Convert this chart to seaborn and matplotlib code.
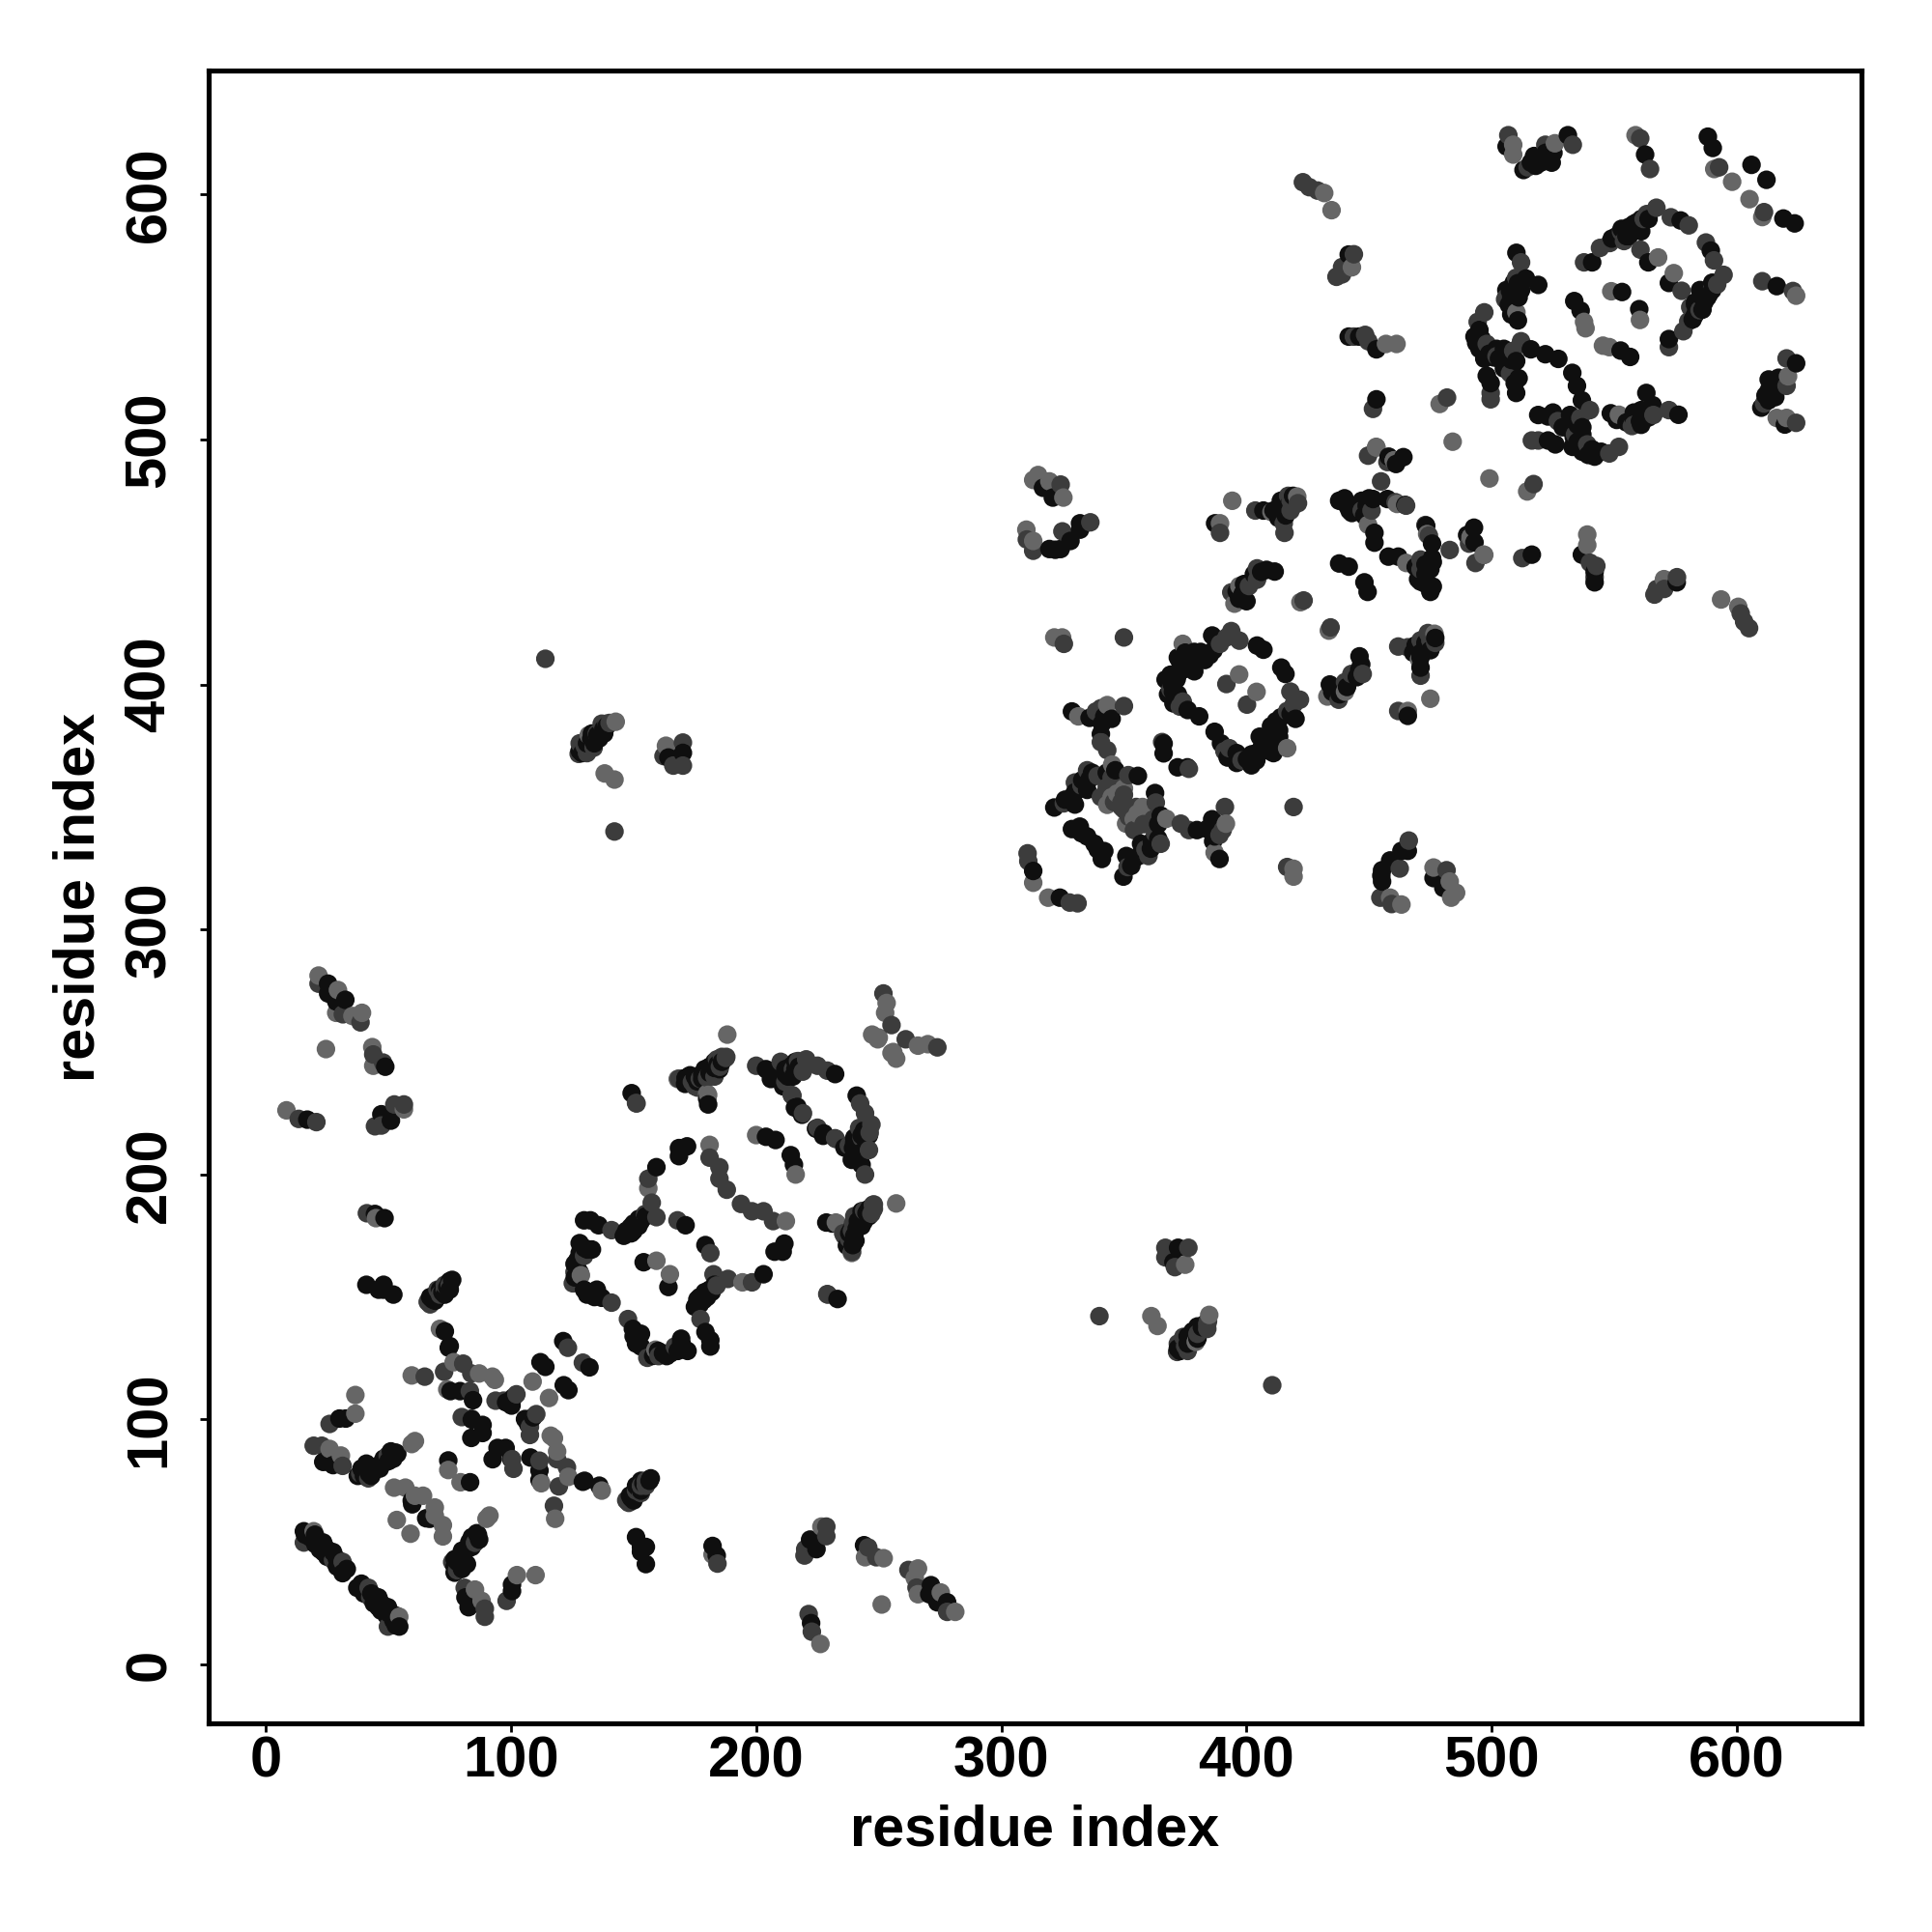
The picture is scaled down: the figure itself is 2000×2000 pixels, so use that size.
import pandas as pd
import matplotlib.pyplot as plt
import seaborn as sb

# Contacts, only the i < j half. The map is symmetric.
dark_contacts = [
    (41,155),(46,153),(48,153),(52,151),(68,149),(70,150),(72,152),(74,154),(76,157),
    (73,136),(74.6,129.3),(75,130),(75.3,111.6),(79.2,111.6),(84.5,107.9),(88.4,97.8),
    (88.4,94.5),(83.8,92.5),(84,100),(100.2,105.7),(98,107),(100.9,109),(112,123.4),
    (114,121.5),(121.3,132),(23.4,82.7),(27.4,81.4),(25,83),(30,100.4),(32.6,100.4),
    (42.5,80.7),(45.7,80.7),(53.6,86),(44,79),(59.5,66.9),(59.7,65.4),(74.4,83.3),
    (15.5,54.4),(20.1,49.2),(23.4,49.8),(23.4,45.9),(27.4,45.9),(31.3,37.3),(40,77),
    (46.5,80),(50,83),(53,86.5),
    (67,150),(69,148.5),(71,153),(73,151),(75,153),(75,156.5),(16,53),(18,52),(21,50),
    (22,47),(25,47),(25,44),(29,43),(29,40),(33,39),(20,53),(37.5,77),(39,80),(41,82),
    (43,77),(47,82),(48,84),(51,87),(52,84),(42,78),
    (129.8,181.3),(132.4,181.3),(135.7,179.3),(131.1,169.4),(133,169.4),(125.9,163.5),
    (129.8,153),(133,151.7),(137,149.7),(148.8,178.6),(152.1,181.9),(159.3,203),(150,180),
    (127,162),(128,168),(168.5,210.8),(171.8,211.5),(168.5,207.5),(171.2,179.3),
    (154.1,164.2),(149.2,233.2),(171.2,239.4),(182.3,243),(184.3,245),(180.4,228.6),
    (178,241),(181,241.5),(183,243.5),(204,243),(206.6,241.7),(211.9,243),(214.5,244.4),
    (232.2,241),(215.8,227.3),(213,240),(216,246),(217.4,244),(206.2,242.1),(210.8,239.5),
    (216.8,227.6),(218.7,224.4),(204,215.4),(207.9,214.1),(171.4,239.5),(180,231),
    (128,160),(127,165),(126,158),(130,170),(128,172),(134,150),(135,153),(131,151),
    (146,175),(147,177),(149,176),(150,177),(151,179),(153,181),(155,183),(152,179),
    (171,237),(175,240),(173,240.5),(176,238),(178,239),(179,243),(181,244),(183,246),
    (185,243),(186,246),(208,240),(209,243),(212,241),(214,242),(215,240),(218,244),
    (216,243),(206,239),(211,236),
    (25.4,277.9),(25.4,273.9),(28.7,270.6),(32.4,271.3),(48.7,244),(16.9,222.4),
    (47.1,224.6),(51,222),(44.5,183.9),(48.4,182.2),(48,155),
    (313,323.9),(321.6,349.8),(328.8,389),(336,386.4),(340.6,379.8),(346.5,365),
    (355.7,362.7),(336,361.4),(328.8,354.1),(328.8,341),(332.7,339.3),(366.2,375.9),
    (366.2,371.9),(338,387),(378.7,413.3),(381.3,413.3),(386.6,414),(404.3,415.9),
    (406.9,414.2),(371.5,402.1),(369.5,400.2),(378.7,405.4),(370.2,392.3),(376,389.6),
    (380.7,387),(368,396),(373,409),(376,411),(369,404),(319.6,455.3),(324.2,455.3),
    (328.2,458.6),(332.1,463.2),(332.1,465.8),(321,476.3),(317,480.3),(322,455),
    (370,397),(372,396),(367,402),(372,404),(374,406),(375,413),(372,411),(380,410),
    (383,410),(385,412),(388,418),(386,420),(326,353),(330,356),(333,361),(335,357),
    (337,364),(343,364),(330,351),(345,386),(343,388),(341,384),(342,387),(332,342),(338,335),
    (387.2,465.8),(406.9,471),(412.8,471),(415.5,473),(408.2,446.8),(411.5,446.1),
    (398.4,436.9),(437.8,475),(441.1,473),(446.3,470.4),(449,473),(451.6,475.7),
    (452.2,461.9),(452.2,457.9),(464,492.8),(457.5,475.7),(437.8,449.4),(441.7,448.1),
    (440,476),(442,471),(445,473),(447,475),(448,469),(450,476),(443,470),(411,471),
    (413,468),(414,475),(416,469),(417,473),(419,477),(396,438),(399,441),(397,435),
    (403,445),(406,446),(400,434),(458,493),(461,490),
    (464.8,473.3),(170.1,372.1),(164.2,370.2),(132.7,377.8),(135.2,379.3),(137.7,381.8),
    (128,373),(129,372),(131,376),(134,376),(136,378),(138,380),(139,383),(133,380),
    (506.1,619.6),(518,611.7),(517.3,615.7),(524.5,613),(525.2,617),(531.1,624.2),
    (562.6,616.3),(588.2,623.6),(590.2,619),(606,612.1),(441.7,575.5),(441.7,542),
    (446,542),(453,536.8),(453,516.4),(541,572.3),(556.1,586.8),(559.3,588.7),(577.1,589.4),
    (555,583),(563.9,572.3),(553.2,560.2),(533.7,556.5),(536.3,552.6),(510.1,576.2),
    (507.5,560.5),(510.7,563.8),(514,565.7),(519,563.1),(510.7,548.6),(495,544.7),
    (493.7,539.4),(497,536.8),(500.9,533.5),(504.8,532.9),(516,536.8),(521.9,534.8),
    (527.2,532.9),(509.4,523),(510,519),(499.6,523),(503,533),(510,532),(505,537),
    (549,582),(551,583),(553,586),(556,583),(558,586),(561,590),(561,585),(558,588),(564,590),
    (507,555),(508,558),(506,561),(509,564),(512,561),(511,558),(508,551),(495,537),(496,541),
    (499,535),(502,537),(506,535),(508,532.5),(497,533),(493,542),(505,529),(511,525),(498,526),
    (513,610),(516,613),(520,613),(522,617),
]

mid_contacts = [
    (66,148),(71,151),(73,153),(75,155),(72.7,119.5),(83.8,118.8),(80.5,122.8),(64.8,117.5),
    (83.2,111.6),(79.9,101),(83.8,100.4),(97,107.7),(93.7,107.7),(102.2,110.3),(123.2,129.3),
    (26,98.2),(19.5,89.3),(22.8,89.3),(31.3,81.1),(38.5,78),(41.8,76),(49.7,85.3),
    (15.5,49.8),(27.4,42.6),(31.3,41.9),(73,155),(67,147),(70,153),
    (125.9,160.2),(125.2,155.6),(129.8,166.8),(141,177.3),(141,147.7),(154.7,183.9),
    (157.4,188.5),(156,198.3),(159.3,182.6),(167.9,181.3),(151.2,229),(181,206.9),(185,203),
    (185,198.3),(188,193.8),(168.5,239.1),(173.8,237.8),(177,239.1),(180.4,240.4),
    (187.6,247.6),(200,244.4),(217.1,246.3),(220.4,247),(225,244.4),(229,242.4),(211.9,237.8),
    (214.5,232.5),(219.1,225),(214.8,232.2),(185.2,244),(187.8,248),(176,235.5),(180,239.5),
    (151,229.2),(251.9,273.9),(255.2,261),(184,247),(186,248),(183,240),(175,236),(215,243),
    (219,242),(210,246),
    (21.5,277.9),(31.4,265.4),(38.6,262.1),(43.8,249),(47.8,245.7),(13.4,222.7),(20.6,221.4),
    (44.5,219.7),(47.1,220),(52.4,228.6),(56.3,228.6),(41.2,184.2),
    (311,327.9),(310.7,331.1),(325.5,416.6),(338.6,389),(340.6,390.3),(350,391.2),
    (340.6,376.5),(343.2,373.2),(351.8,363),(339.3,362.7),(332.7,358.8),(325.5,351.5),
    (340.6,354.1),(365.6,376.5),(372.8,391),(389.2,416.6),(391.8,419.2),(393.8,421.8),
    (397.1,417.9),(391.8,400.2),(350,419.2),(324.9,462.5),(313,454.6),(310.4,459.2),
    (336.3,466.2),(324.2,481.6),(389.2,461.9),(403.6,471),(415.5,461.9),(415.2,465.8),
    (418,475),(404.3,447.4),(404.3,442.8),(393.8,437.6),(401,440.2),(423.3,434.3),
    (457.5,490.8),(449.6,493.4),(454.9,482.9),(465.1,473),(460.8,474.4),
    (418,471),(421,474),(417,477),(369,398),(374,393),(447,471),(451,471),(330,360),
    (335,365),(343,358),(345,362),(346,352),(349,350),(352,349),(355,350),
    (170.1,366.9),(170.1,376.3),(166.2,366.9),(162.2,370.8),(127.6,371.7),(130,375),
    (133.7,374.2),(140.2,384.3),(114,410.5),(142.2,340),(135,380),(137,384),(139,384),
    (128,376),(131,372),
    (506.8,624.2),(514.7,611.1),(521.9,620.3),(533.1,620.3),(560.6,622.9),(564.6,610.4),
    (592.8,611.1),(443.8,575.6),(443.8,542),(448.4,542.7),(449.7,540.1),(451.6,512.5),
    (481.8,517.1),(537.7,572.3),(544.2,578.2),(548.2,580.2),(552.8,584.8),(563.3,592),
    (567.2,594.6),(573.1,590.7),(580.4,587.4),(560.7,577.5),(505.5,557.2),(512,572.3),
    (497,551.9),(494.3,548),(508.8,536.2),(512,540.1),(507.5,527),(499.6,519),(499.6,516.4),
    (423,605),(425.6,603),(429,601.6),(436.7,566.4),(439,567.4),(439,570.4),
    (562,590),(554,581),(506,558),(510,566),(498,539),(502,534),
]

light_contacts = [
    (71,137),(59.5,118),(76.6,123.4),(87,118.8),(92.4,117.5),(93.4,116.2),(74,112.3),
    (108.8,115.5),(36.5,110),(36.5,102.4),(26,88),(30.6,85.3),(60.8,91.2),(59.5,90),
    (52.3,72.2),(56.9,72.2),(60.8,68.9),(64.1,68.9),(53.4,59),(19.5,54.4),(74.4,79.4),
    (128.5,158.9),(156,194.4),(181,212.1),(159.3,164.8),(200,216.1),(180,233),(168,239),
    (188.2,257.1),(180.4,232.5),(247.3,257.1),(250,255.9),(253.2,270),(252.6,266),(249.6,255.2),
    (21.5,281.2),(29.4,275.3),(28.7,266),(35.3,264.7),(39.2,266),(24.5,251.2),(43.4,252),
    (43.8,244.4),(8.4,226.2),(56.3,226.6),(44.9,182.2),
    (313,319.1),(331.4,387),(343.2,391.6),(345.2,367.3),(347.2,355.5),(343.2,350.9),(374,416.6),
    (397,404.1),(321.6,419.2),(324.8,419.2),(313,483.5),(315,485.5),(319.6,482.9),(325.3,476.3),
    (310.2,463.2),(313,458.6),(394.2,475),(389.2,465.8),(410.2,470.4),(420.7,476.7),(397.1,440.2),
    (395.1,433),(422,433.6),(449.6,465.2),(452.9,497),(460.1,491.4),(461.4,473.7),(453,496.7),
    (460.2,491.5),(163.2,375),(142.7,384.8),(131.7,379.3),(138.2,363.7),(142.2,361.2),
    (345,354),(350,357.6),
    (508.8,620.3),(508.8,616.3),(525.8,620.9),(558.7,624.2),(590.8,610.4),(598.1,605.2),
    (443,570.3),(456.9,539),(461.2,539),(478.8,514.5),(484.1,499.1),(510.1,551.9),(537.7,548),
    (538.3,545.4),(548.8,560.5),(567.9,574.3),(431.7,600.6),(434.7,593.6),
]

shade_levels = {'dark': '#0f0f0f', 'mid': '#3c3c3c', 'light': '#666666'}
tick_vals = [0, 100, 200, 300, 400, 500, 600]

rows = []
for name, pairs in [('dark', dark_contacts), ('mid', mid_contacts), ('light', light_contacts)]:
    for a, b in pairs:
        rows.append((a, b, name))
        rows.append((b, a, name))
df = pd.DataFrame(rows, columns=['i', 'j', 'shade']).sort_values('i')

sb.set_style('white')
plt.rcParams['font.family'] = ['Liberation Sans', 'DejaVu Sans']
plt.rcParams['font.weight'] = 'bold'
plt.rcParams['text.color'] = 'black'
plt.rcParams['axes.labelcolor'] = 'black'
plt.rcParams['xtick.color'] = 'black'
plt.rcParams['ytick.color'] = 'black'

fig = plt.figure(figsize=(10, 10), dpi=200)
ax = fig.add_axes([0.1078, 0.108, 0.8555, 0.8555])
sb.scatterplot(data=df, x='i', y='j', hue='shade', palette=shade_levels, s=48,
               linewidth=0, edgecolor='none', legend=False, ax=ax)

ax.set_xlim(-23.5, 650.7)
ax.set_ylim(-24, 650.6)
ax.set_xticks(tick_vals)
ax.set_yticks(tick_vals)
ax.tick_params(axis='both', which='major', bottom=True, left=True, length=3.4, width=1,
               color='black', labelcolor='black', labelsize=21.5)
ax.tick_params(axis='x', pad=1.1)
ax.tick_params(axis='y', pad=8.3)
for lab in ax.get_yticklabels():
    lab.set_rotation(90)
    lab.set_va('center')
for sp in ax.spines.values():
    sp.set_linewidth(1.85)
    sp.set_color('black')
    sp.set_visible(True)

ax.set_xlabel('residue index', fontsize=21.4, fontweight='bold', color='black')
ax.set_ylabel('residue index', fontsize=21.4, fontweight='bold', color='black')
ax.xaxis.set_label_coords(0.5, -0.0647)
ax.yaxis.set_label_coords(-0.0783, 0.5)
ax.xaxis.label.set_va('center')
ax.yaxis.label.set_va('center')

plt.savefig('out.png', dpi=200)
